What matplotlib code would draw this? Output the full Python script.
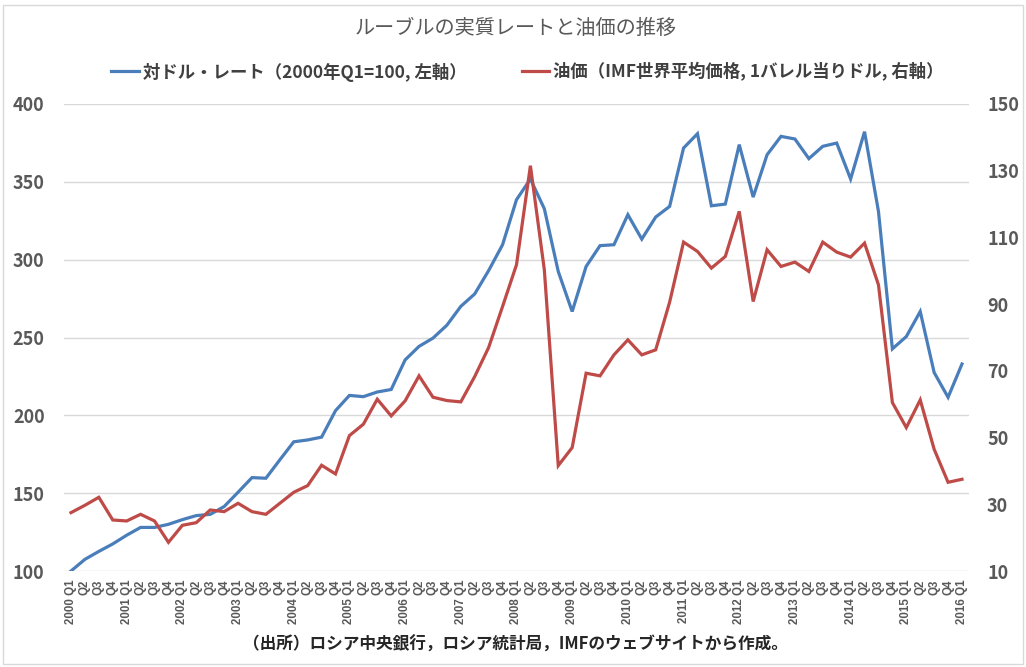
import matplotlib
matplotlib.use("Agg")
import matplotlib.pyplot as plt
from matplotlib.patches import Rectangle

plt.rcParams['font.family'] = ['Noto Sans CJK JP', 'DejaVu Sans']

years = list(range(2000, 2017))
quarters = ["Q1", "Q2", "Q3", "Q4"]
tick_labels = []
for y in years:
    for q in quarters:
        if y == 2016 and q != "Q1":
            break
        tick_labels.append(f"{y} {q}" if q == "Q1" else q)

ruble_rate = [100, 107.5, 112.6, 117.4, 123, 128, 128, 130, 133, 135.6, 136.4, 141.4,
              150.6, 160, 159.6, 171.4, 183, 184.2, 186, 203, 212.8, 212, 215, 216.6,
              235.6, 244.3, 249.6, 257.9, 270, 278, 293, 309.6, 338.5, 351.8, 332.7, 292.4,
              266.7, 295.6, 309, 309.6, 328.9, 313.2, 327.4, 334.2, 371.7, 380.9, 334.6, 335.7,
              373.9, 340.2, 367.4, 379.2, 377.5, 364.9, 372.8, 374.9, 351.8, 382.2, 331, 242.7,
              250.6, 266.7, 227.5, 211.6, 233]
oil_price = [27.5, 29.7, 32.1, 25.3, 25, 27, 25, 18.6, 23.7, 24.5, 28.3, 27.8,
             30.3, 27.8, 27, 30.3, 33.6, 35.6, 41.7, 39.1, 50.6, 54, 61.5, 56.5,
             61, 68.5, 62.1, 61.1, 60.7, 68.3, 77, 89.3, 101.8, 131.5, 100.3, 41.6,
             47, 69.3, 68.5, 74.8, 79.3, 74.8, 76.3, 90.6, 108.6, 105.8, 100.8, 104.3,
             117.8, 90.8, 106.3, 101.3, 102.6, 99.8, 108.6, 105.6, 104.1, 108.3, 95.8, 60.5,
             53, 61.3, 46.5, 36.6, 37.5]

title = "ルーブルの実質レートと油価の推移"
label_rate = "対ドル・レート（2000年Q1=100, 左軸）"
label_oil = "油価（IMF世界平均価格, 1バレル当りドル, 右軸）"
source = "（出所）ロシア中央銀行，ロシア統計局，IMFのウェブサイトから作成。"

blue = "#4A7EBB"
red = "#BE4B48"
gray = "#595959"

fig = plt.figure(figsize=(10.26, 6.67), dpi=100)
ax = fig.add_axes([0.0624, 0.1439, 0.882, 0.7002])
ax2 = ax.twinx()

x = list(range(len(ruble_rate)))
l1, = ax.plot(x, ruble_rate, color=blue, lw=2.3, solid_joinstyle='miter', zorder=3)
l2, = ax2.plot(x, oil_price, color=red, lw=2.3, solid_joinstyle='miter', zorder=3)

ax.set_xlim(-0.5, len(x) - 0.5)
ax.set_ylim(100, 400)
ax.set_yticks(range(100, 401, 50))
ax2.set_ylim(10, 150)
ax2.set_yticks(range(10, 151, 20))

ax.grid(axis='y', color='#D9D9D9', lw=1)
ax.set_axisbelow(True)
for a in (ax, ax2):
    for s in a.spines.values():
        s.set_visible(False)
    a.tick_params(length=0)

ax.set_xticks(x)
ax.set_xticklabels(tick_labels, rotation=90, fontsize=8.3, fontweight='bold',
                   color=gray, family=['Liberation Sans', 'DejaVu Sans'])
ax.tick_params(axis='x', pad=6)
for lab in ax.get_yticklabels():
    lab.set_fontsize(13); lab.set_fontweight('bold'); lab.set_color(gray)
ax.tick_params(axis='y', pad=14)
for lab in ax2.get_yticklabels():
    lab.set_fontsize(13); lab.set_fontweight('bold'); lab.set_color(gray)
ax2.tick_params(axis='y', pad=13)

fig.text(0.503, 0.958, title, ha='center', va='center', fontsize=14.5, color=gray)
fig.legend([l1, l2], [label_rate, label_oil], loc='center', bbox_to_anchor=(0.514, 0.892),
           ncol=2, frameon=False, prop={'size': 12.5, 'weight': 'bold'},
           handlelength=1.6, handletextpad=0.2, columnspacing=3.2, labelcolor='#404040')
fig.text(0.502, 0.033, source, ha='center', va='center', fontsize=12,
         fontweight='bold', color='#262626')

fig.patches.append(Rectangle((0.003, 0.005), 0.994, 0.988, transform=fig.transFigure,
                             fill=False, edgecolor='#D9D9D9', lw=1))

fig.savefig("out.png", dpi=100)
